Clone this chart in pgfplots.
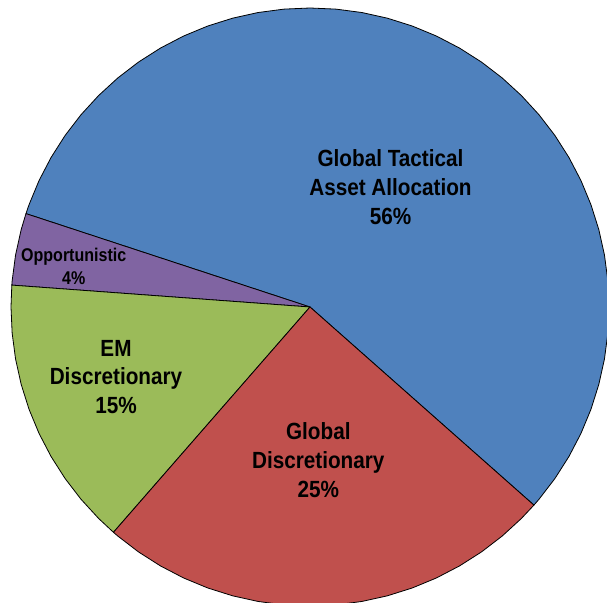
\documentclass[border=0pt]{standalone}
\usepackage{pgfplots}
\pgfplotsset{compat=1.18}
\usepackage{fontspec}
\setmainfont{Liberation Sans}
\definecolor{cBlue}{HTML}{4F81BD}
\definecolor{cRed}{HTML}{C0504D}
\definecolor{cGreen}{HTML}{9BBB59}
\definecolor{cPurple}{HTML}{8064A2}
\begin{document}
\begin{tikzpicture}
\begin{axis}[
  scale only axis, width=607bp, height=603bp,
  xmin=-310, xmax=297, ymin=-296, ymax=307,
  hide axis, clip=true,
]
\addplot[draw=none] coordinates {(-310,-296) (297,307)};
% Global Tactical Asset Allocation 56%
\addplot[data cs=polar, fill=cBlue, draw=black, line width=0.8bp, line join=round] coordinates {
(0,0) (-41.5,299) (-40,299) (-35,299) (-30,299) (-25,299) (-20,299) (-15,299) (-10,299) (-5,299)
(0,299) (5,299) (10,299) (15,299) (20,299) (25,299) (30,299) (35,299) (40,299) (45,299)
(50,299) (55,299) (60,299) (65,299) (70,299) (75,299) (80,299) (85,299) (90,299) (95,299)
(100,299) (105,299) (110,299) (115,299) (120,299) (125,299) (130,299) (135,299) (140,299)
(145,299) (150,299) (155,299) (160,299) (161.8,299) (0,0)} -- cycle;
% Opportunistic 4%
\addplot[data cs=polar, fill=cPurple, draw=black, line width=0.8bp, line join=round] coordinates {
(0,0) (161.8,299) (165,299) (170,299) (175,299) (175.8,299) (0,0)} -- cycle;
% EM Discretionary 15%
\addplot[data cs=polar, fill=cGreen, draw=black, line width=0.8bp, line join=round] coordinates {
(0,0) (175.8,299) (180,299) (185,299) (190,299) (195,299) (200,299) (205,299) (210,299)
(215,299) (220,299) (225,299) (228.9,299) (0,0)} -- cycle;
% Global Discretionary 25%
\addplot[data cs=polar, fill=cRed, draw=black, line width=0.8bp, line join=round] coordinates {
(0,0) (228.9,299) (230,299) (235,299) (240,299) (245,299) (250,299) (255,299) (260,299)
(265,299) (270,299) (275,299) (280,299) (285,299) (290,299) (295,299) (300,299) (305,299)
(310,299) (315,299) (318.5,299) (0,0)} -- cycle;
\end{axis}
\begin{axis}[
  scale only axis, width=607bp, height=603bp,
  xmin=-310, xmax=297, ymin=-296, ymax=307,
  hide axis, clip=false,
]
\node[align=center, xscale=0.885, font={\fontsize{23.5}{29}\selectfont\bfseries}] at (axis cs:80.5,120) {Global Tactical\\Asset Allocation\\56\%};
\node[align=center, xscale=0.885, font={\fontsize{23.5}{29}\selectfont\bfseries}] at (axis cs:-194,-70) {EM\\Discretionary\\15\%};
\node[align=center, xscale=0.885, font={\fontsize{23.5}{29}\selectfont\bfseries}] at (axis cs:8.3,-153) {Global\\Discretionary\\25\%};
\node[align=center, xscale=0.87, font={\fontsize{18.5}{23}\selectfont\bfseries}] at (axis cs:-236.3,40.5) {Opportunistic\\4\%};
\end{axis}
\end{tikzpicture}
\end{document}
